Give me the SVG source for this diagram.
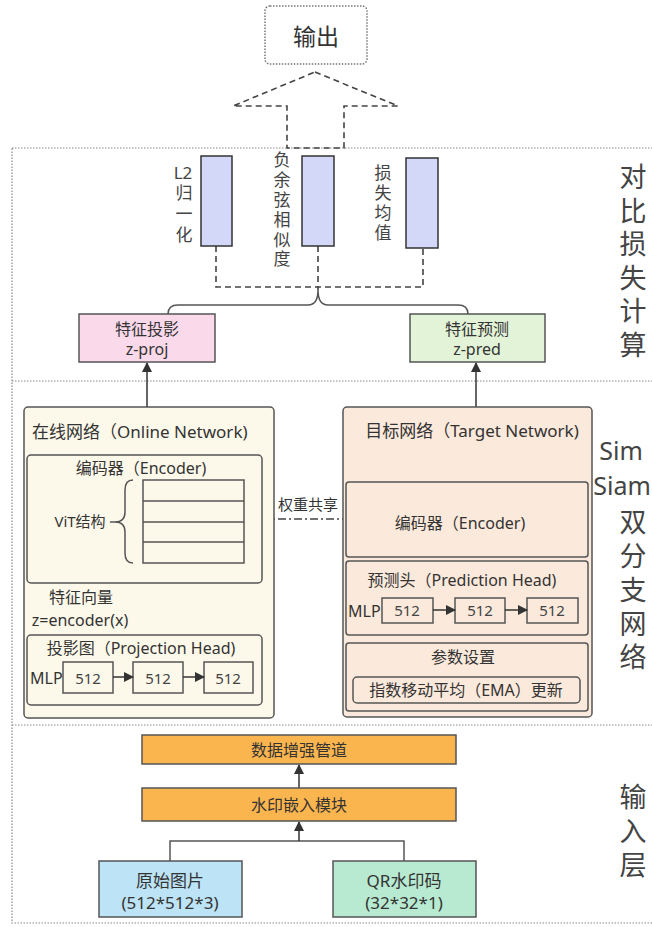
<svg xmlns="http://www.w3.org/2000/svg" width="652" height="927" viewBox="0 0 652 927">
<style>
text { font-family: "Noto Sans", "Noto Sans CJK SC", sans-serif; fill: #333; dominant-baseline: central; text-anchor: middle; }
.vt { writing-mode: vertical-rl; text-orientation: upright; text-anchor: start; }
.sec { fill: none; stroke: #888; stroke-width: 1.2; stroke-dasharray: 1.5 1.5; }
.box { stroke: #555; stroke-width: 1.5; }
.bar { fill: #d4d8f8; stroke: #333; stroke-width: 1.5; }
.dash { fill: none; stroke: #444; stroke-width: 1.6; stroke-dasharray: 6 4; }
.line { fill: none; stroke: #555; stroke-width: 1.5; }
.arr { fill: none; stroke: #333; stroke-width: 1.5; marker-end: url(#ah); }
.side { font-size: 27px; fill: #444; }
.vl { font-size: 17px; fill: #444; }
.t17 { font-size: 17px; }
.t16 { font-size: 16px; }
.t15 { font-size: 15px; }
.n512 { font-size: 15px; fill: #444; }
.mlp { fill: none; stroke: #555; stroke-width: 1.5; }
</style>
<defs>
<marker id="ah" viewBox="0 0 10 10" refX="9" refY="5" markerWidth="10" markerHeight="10" markerUnits="userSpaceOnUse" orient="auto">
<path d="M0,0 L10,5 L0,10 z" fill="#333"/>
</marker>
</defs>

<g id="sections">
<rect class="sec" x="12" y="148" width="660" height="775"/>
<line class="sec" x1="12" y1="381" x2="652" y2="381"/>
<line class="sec" x1="12" y1="725" x2="652" y2="725"/>
<text class="side vt" x="632" y="163.5" letter-spacing="6.5">对比损失计算</text>
<text class="side" style="font-size:25px"><tspan x="621" y="450">Sim</tspan><tspan x="622" dy="34.5">Siam</tspan></text>
<text class="side vt" x="632" y="508.5" letter-spacing="6.8">双分支网络</text>
<text class="side vt" x="632" y="783.5" letter-spacing="7">输入层</text>
</g>

<g id="connectors">
<path class="dash" d="M315,72 L398,106 L344,106 L344,148 L287,148 L287,106 L233,106 Z"/>
<path class="dash" d="M216,246 L216,287 L423,287 L423,248 M318,246 L318,290"/>
<path class="line" d="M168,314 Q168,305 178,305 L308,305 Q318,305 318,290 Q318,305 328,305 L458,305 Q468,305 468,314"/>
<line class="arr" x1="147" y1="407" x2="147" y2="363"/>
<line class="arr" x1="476" y1="407" x2="476" y2="363"/>
<line class="arr" x1="144" y1="583" x2="144" y2="634"/>
<line x1="262" y1="519" x2="346" y2="519" stroke="#444" stroke-width="1.3" stroke-dasharray="8 3 2 3"/>
<text class="t15" x="308" y="504">权重共享</text>
<line class="arr" x1="299" y1="788" x2="299" y2="765"/>
<path class="line" d="M170,861 L170,841 L404,841 L404,861"/>
<line class="arr" x1="299" y1="841" x2="299" y2="822"/>
</g>

<g id="output">
<rect x="265" y="6" width="102" height="58" rx="5" fill="#fff" stroke="#777" stroke-width="1.5" stroke-dasharray="1.5 1.5"/>
<text x="316" y="36" style="font-size:23px">输出</text>
</g>

<g id="l2norm">
<rect class="bar" x="201" y="156" width="31" height="90"/>
<text class="vl" x="183" y="172">L2</text>
<text class="vl vt" x="183" y="184.5" letter-spacing="4">归一化</text>
</g>
<g id="negcos">
<rect class="bar" x="302" y="156" width="32" height="90"/>
<text class="vl vt" x="281" y="151.5" letter-spacing="2.8">负余弦相似度</text>
</g>
<g id="lossmean">
<rect class="bar" x="406" y="158" width="32" height="90"/>
<text class="vl vt" x="382" y="164.5" letter-spacing="3">损失均值</text>
</g>

<g id="zproj">
<rect class="box" x="79" y="314" width="136" height="48" fill="#f9d9ea"/>
<text class="t16"><tspan x="147" y="329">特征投影</tspan><tspan x="147" dy="20">z-proj</tspan></text>
</g>
<g id="zpred">
<rect class="box" x="410" y="314" width="135" height="48" fill="#e3f3d8"/>
<text class="t16"><tspan x="477" y="329">特征预测</tspan><tspan x="477" dy="20">z-pred</tspan></text>
</g>

<g id="online">
<rect class="box" x="24" y="407" width="250" height="311" rx="4" fill="#fdf9ea"/>
<text class="t17" x="32" y="431" style="text-anchor:start">在线网络（Online Network)</text>
<g id="online-encoder">
<rect class="box" x="27" y="455" width="235" height="128" rx="4" fill="#fdf9ea"/>
<text class="t16" x="141" y="468">编码器（Encoder)</text>
<rect class="box" x="143" y="480" width="101" height="83" fill="#fdf9ea"/>
<line class="line" x1="143" y1="501" x2="244" y2="501"/>
<line class="line" x1="143" y1="522" x2="244" y2="522"/>
<line class="line" x1="143" y1="542" x2="244" y2="542"/>
<path class="line" d="M133,480 Q125,480 125,490 L125,512 Q125,522 115,522 L110,522 M115,522 Q125,522 125,532 L125,553 Q125,563 133,563"/>
<text class="t15" x="80" y="521">ViT结构</text>
</g>
<text class="t16"><tspan x="81" y="597">特征向量</tspan><tspan x="80" dy="23">z=encoder(x)</tspan></text>
<g id="projection-head">
<rect class="box" x="27" y="635" width="235" height="70" rx="4" fill="#fdf9ea"/>
<text class="t16" x="141" y="648">投影图（Projection Head)</text>
<text class="t16" x="30" y="678" style="text-anchor:start">MLP</text>
<rect class="mlp" x="63" y="662" width="50" height="31"/>
<rect class="mlp" x="133" y="662" width="50" height="31"/>
<rect class="mlp" x="204" y="662" width="49" height="31"/>
<text class="n512" x="88" y="678">512</text>
<text class="n512" x="158" y="678">512</text>
<text class="n512" x="228" y="678">512</text>
<line class="arr" x1="113" y1="677" x2="133" y2="677"/>
<line class="arr" x1="183" y1="677" x2="204" y2="677"/>
</g>
</g>

<g id="target">
<rect class="box" x="343" y="407" width="249" height="310" rx="4" fill="#fbe9db"/>
<text class="t17" x="472" y="430">目标网络（Target Network)</text>
<g id="target-encoder">
<rect class="box" x="346" y="482" width="242" height="75" rx="3" fill="#fbe9db"/>
<text class="t16" x="460" y="523">编码器（Encoder)</text>
</g>
<g id="prediction-head">
<rect class="box" x="346" y="561" width="242" height="74" rx="3" fill="#fbe9db"/>
<text class="t16" x="462" y="580">预测头（Prediction Head)</text>
<text class="t16" x="348" y="611" style="text-anchor:start">MLP</text>
<rect class="mlp" x="382" y="598" width="51" height="25"/>
<rect class="mlp" x="455" y="598" width="50" height="25"/>
<rect class="mlp" x="527" y="598" width="51" height="25"/>
<text class="n512" x="407" y="610">512</text>
<text class="n512" x="480" y="610">512</text>
<text class="n512" x="552" y="610">512</text>
<line class="arr" x1="433" y1="610" x2="455" y2="610"/>
<line class="arr" x1="505" y1="610" x2="527" y2="610"/>
</g>
<g id="params">
<rect class="box" x="346" y="643" width="242" height="68" rx="3" fill="#fbe9db"/>
<text class="t16" x="463" y="657">参数设置</text>
<rect class="box" x="353" y="677" width="227" height="26" rx="4" fill="#fbe9db"/>
<text class="t16" x="466" y="690">指数移动平均（EMA）更新</text>
</g>
</g>

<g id="augment">
<rect class="box" x="142" y="735" width="314" height="29" fill="#fbb54e"/>
<text class="t16" x="299" y="750">数据增强管道</text>
</g>
<g id="embed">
<rect class="box" x="142" y="788" width="314" height="33" fill="#fbb54e"/>
<text class="t16" x="299" y="805">水印嵌入模块</text>
</g>
<g id="image">
<rect class="box" x="99" y="861" width="143" height="56" fill="#bde3f6"/>
<text class="t17"><tspan x="170" y="880">原始图片</tspan><tspan x="170" dy="22">(512*512*3)</tspan></text>
</g>
<g id="qr">
<rect class="box" x="333" y="861" width="143" height="56" fill="#b8ead2"/>
<text class="t17"><tspan x="404" y="880">QR水印码</tspan><tspan x="404" dy="22">(32*32*1)</tspan></text>
</g>
</svg>
